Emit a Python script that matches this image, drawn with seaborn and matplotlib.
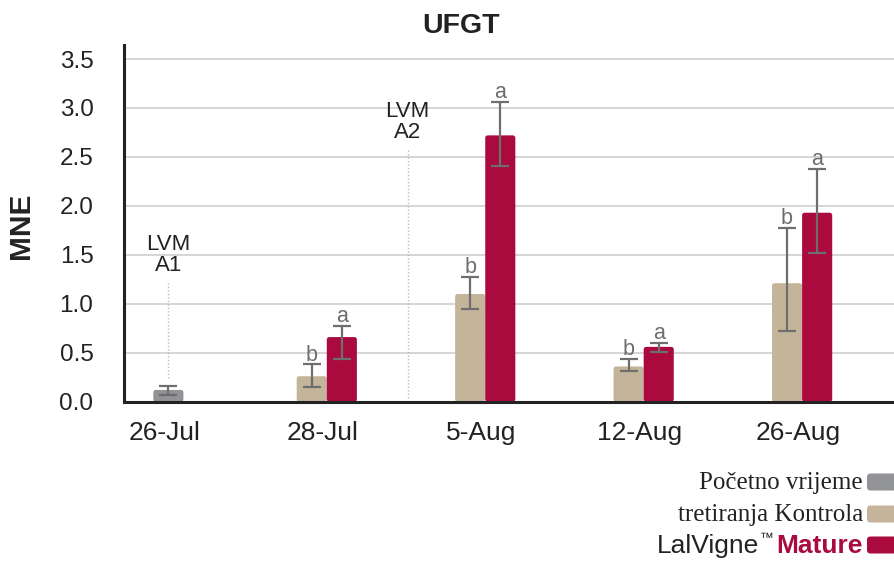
import numpy as np
import pandas as pd
import matplotlib
matplotlib.use("Agg")
import matplotlib.pyplot as plt
from matplotlib.patches import FancyBboxPatch, Rectangle
from matplotlib.transforms import ScaledTranslation
import seaborn as sns

# ---- data ----
dates = ["26-Jul", "28-Jul", "5-Aug", "12-Aug", "26-Aug"]

baseline_dates = ["26-Jul"]
baseline_value = [0.12]
baseline_lo = [0.07]
baseline_hi = [0.16]

treat_dates = ["28-Jul", "5-Aug", "12-Aug", "26-Aug"]
control_value = [0.26, 1.10, 0.36, 1.21]
control_lo = [0.15, 0.95, 0.31, 0.72]
control_hi = [0.38, 1.27, 0.44, 1.77]
control_letters = ["b", "b", "b", "b"]

mature_value = [0.66, 2.72, 0.56, 1.93]
mature_lo = [0.44, 2.41, 0.51, 1.52]
mature_hi = [0.77, 3.06, 0.60, 2.38]
mature_letters = ["a", "a", "a", "a"]

legend_labels = ["Početno vrijeme", "tretiranja Kontrola", "LalVigne", "™", "Mature"]
yticks = [0.0, 0.5, 1.0, 1.5, 2.0, 2.5, 3.0, 3.5]

C_GRAY = "#929397"
C_TAN = "#c4b49a"
C_RED = "#ab0a3e"
C_ERR = "#6e6e6e"
C_TXT = "#222222"

sns.set_theme(style="white")
plt.rcParams["font.family"] = ["Liberation Sans", "DejaVu Sans"]

fig = plt.figure(figsize=(8.94, 5.61), dpi=100)
ax = fig.add_axes([124 / 894, (561 - 401.7) / 561, 1 - 124 / 894, (401.7 - 45) / 561])

df_base = pd.DataFrame({"date": baseline_dates, "value": baseline_value})
df_treat = pd.DataFrame({
    "date": treat_dates * 2,
    "value": control_value + mature_value,
    "group": ["Kontrola"] * 4 + ["Mature"] * 4,
})

sns.barplot(data=df_treat, x="date", y="value", hue="group", order=dates,
            hue_order=["Kontrola", "Mature"], palette=[C_TAN, C_RED],
            width=0.38, errorbar=None, legend=False, ax=ax, zorder=3,
            linewidth=0, saturation=1)
sns.barplot(data=df_base, x="date", y="value", order=dates, color=C_GRAY,
            width=0.19, errorbar=None, ax=ax, zorder=3, linewidth=0, saturation=1)

ax.set_xlim(-0.28, 4.58)
ax.set_ylim(0, 3.643)

# round the top corners of the bars (same bars, drawn with a rounded box)
px_x = (894 - 124) / (4.58 + 0.28)
px_y = (401.7 - 45) / 3.643
r_px = 2.5
for p in list(ax.patches):
    if isinstance(p, Rectangle) and p.get_height() > 0:
        x0, y0 = p.get_x(), p.get_y()
        w, h = p.get_width(), p.get_height()
        fb = FancyBboxPatch((x0, y0), w, h,
                            boxstyle=f"round,pad=0,rounding_size={r_px / px_x}",
                            mutation_aspect=px_x / px_y,
                            facecolor=p.get_facecolor(), edgecolor="none", zorder=3)
        p.set_visible(False)
        ax.add_patch(fb)

pos = {d: i for i, d in enumerate(dates)}
off = 0.095

def draw_err(xs, vals, lo, hi):
    vals = np.array(vals); lo = np.array(lo); hi = np.array(hi)
    ax.errorbar(xs, vals, yerr=[vals - lo, hi - vals], fmt="none",
                ecolor=C_ERR, elinewidth=1.6, capsize=6.5, capthick=1.6, zorder=5)

bx = [pos[d] for d in baseline_dates]
draw_err(bx, baseline_value, baseline_lo, baseline_hi)
cx = [pos[d] - off for d in treat_dates]
mx = [pos[d] + off for d in treat_dates]
draw_err(cx, control_value, control_lo, control_hi)
draw_err(mx, mature_value, mature_lo, mature_hi)

for x, h, t in zip(cx, control_hi, control_letters):
    ax.text(x, h + 0.04, t, ha="center", va="baseline", fontsize=15.5, color=C_ERR, zorder=6)
for x, h, t in zip(mx, mature_hi, mature_letters):
    ax.text(x, h + 0.04, t, ha="center", va="baseline", fontsize=15.5, color=C_ERR, zorder=6)

# LVM application markers
ax.plot([0, 0], [0.24, 1.21], ls=(0, (1, 1.5)), color="#bbbbbb", lw=1, zorder=2)
ax.text(0, 1.50, "LVM\nA1", ha="center", va="center", fontsize=16, color=C_TXT,
        linespacing=1.0, zorder=6)
ax.plot([1.51, 1.51], [0.04, 2.57], ls=(0, (1, 1.5)), color="#bbbbbb", lw=1, zorder=2)
ax.text(1.51, 2.86, "LVM\nA2", ha="center", va="center", fontsize=16, color=C_TXT,
        linespacing=1.0, zorder=6)

ax.set_yticks(yticks)
ax.set_yticklabels([f"{v:.1f}" for v in yticks])
ax.grid(axis="y", color="#d2d2d2", lw=1.3, zorder=0)
ax.grid(axis="x", visible=False)
ax.set_axisbelow(True)
for s in ["top", "right"]:
    ax.spines[s].set_visible(False)
for s in ["left", "bottom"]:
    ax.spines[s].set_color(C_TXT)
    ax.spines[s].set_linewidth(2.2)
    ax.spines[s].set_zorder(7)
ax.tick_params(axis="y", length=0, pad=22, labelsize=17.5, labelcolor=C_TXT)
ax.tick_params(axis="x", length=0, pad=14, labelsize=19, labelcolor=C_TXT)
shift = ScaledTranslation(-4 / 100, 0, fig.dpi_scale_trans)
for lab in ax.get_xticklabels():
    lab.set_transform(lab.get_transform() + shift)
ax.set_xlabel("")
ax.set_ylabel("")

fig.text(461 / 894, 1 - 26 / 561, "UFGT", ha="center", va="center",
         fontsize=20.5, fontweight="bold", color=C_TXT)
fig.text(21 / 894, 1 - 226 / 561, "MNE", ha="center", va="center", rotation=90,
         fontsize=21.5, fontweight="bold", color=C_TXT)

# custom legend
serif = ["Liberation Serif", "DejaVu Serif"]
fig.text(863 / 894, 1 - 483 / 561, legend_labels[0], ha="right", va="center",
         fontsize=18, family=serif, color=C_TXT)
fig.text(863 / 894, 1 - 515 / 561, legend_labels[1], ha="right", va="center",
         fontsize=18, family=serif, color=C_TXT)
y3 = 1 - 546 / 561
t_mat = fig.text(863 / 894, y3, legend_labels[4], ha="right", va="center",
                 fontsize=19, fontweight="bold", color=C_RED)
fig.canvas.draw()
rend = fig.canvas.get_renderer()
bb = t_mat.get_window_extent(renderer=rend)
t_tm = fig.text((bb.x0 - 3) / 894, 1 - 538 / 561, legend_labels[3], ha="right",
                va="center", fontsize=10, color=C_TXT)
fig.canvas.draw()
bb2 = t_tm.get_window_extent(renderer=rend)
fig.text((bb2.x0 - 1) / 894, y3, legend_labels[2], ha="right", va="center",
         fontsize=19, color=C_TXT)

for yc, col in zip([482, 514, 545], [C_GRAY, C_TAN, C_RED]):
    p = FancyBboxPatch((867 / 100, (561 - yc - 8.5) / 100), 0.30, 0.17,
                       boxstyle="round,pad=0,rounding_size=0.035",
                       transform=fig.dpi_scale_trans, facecolor=col,
                       edgecolor="none", clip_on=False)
    fig.add_artist(p)

fig.savefig("out.png", dpi=100)
